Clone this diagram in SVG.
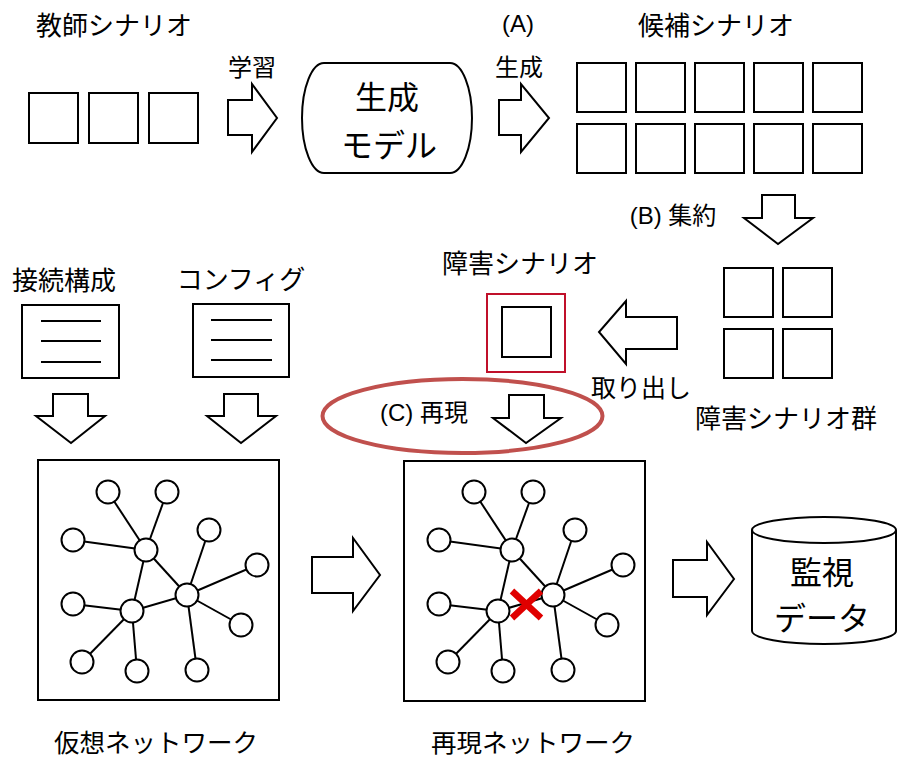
<svg xmlns="http://www.w3.org/2000/svg" width="898" height="758" viewBox="0 0 898 758">
<style>
.s{fill:#fff;stroke:#000;stroke-width:2}
.ln{stroke:#000;stroke-width:2;fill:none}
.ar{fill:#fff;stroke:#000;stroke-width:2;stroke-linejoin:miter}
.jp{font-family:"Noto Sans CJK JP","Liberation Sans",sans-serif;fill:#000;dominant-baseline:central;text-anchor:middle}
.lt{font-family:"Liberation Sans","Noto Sans CJK JP",sans-serif;fill:#000;dominant-baseline:central;text-anchor:middle}
.n{fill:#fff;stroke:#000;stroke-width:2}
</style>
<rect width="898" height="758" fill="#fff"/>

<g id="teacher">
<text class="jp" x="114" y="23" font-size="26">教師シナリオ</text>
<rect class="s" x="29" y="93" width="49" height="50"/>
<rect class="s" x="89" y="93" width="49" height="50"/>
<rect class="s" x="149" y="93" width="49" height="50"/>
</g>

<g id="model">
<path class="s" d="M324,63 H450 A22,55 0 0 1 450,173 H324 A22,55 0 0 1 324,63 Z"/>
<text class="jp" x="387" y="95" font-size="32">生成</text>
<text class="jp" x="389" y="143" font-size="32">モデル</text>
</g>

<g id="candidates">
<text class="jp" x="716" y="23" font-size="26">候補シナリオ</text>
<rect class="s" x="577" y="63" width="49" height="49"/>
<rect class="s" x="636" y="63" width="49" height="49"/>
<rect class="s" x="695" y="63" width="49" height="49"/>
<rect class="s" x="754" y="63" width="49" height="49"/>
<rect class="s" x="813" y="63" width="49" height="49"/>
<rect class="s" x="577" y="124" width="49" height="49"/>
<rect class="s" x="636" y="124" width="49" height="49"/>
<rect class="s" x="695" y="124" width="49" height="49"/>
<rect class="s" x="754" y="124" width="49" height="49"/>
<rect class="s" x="813" y="124" width="49" height="49"/>
</g>

<g id="fault-group">
<rect class="s" x="724" y="268" width="49" height="49"/>
<rect class="s" x="783" y="268" width="49" height="49"/>
<rect class="s" x="724" y="329" width="49" height="49"/>
<rect class="s" x="783" y="329" width="49" height="49"/>
<text class="jp" x="786" y="416" font-size="26">障害シナリオ群</text>
</g>

<g id="fault">
<text class="jp" x="520" y="261" font-size="26">障害シナリオ</text>
<rect x="487" y="294" width="78" height="78" fill="#fff" stroke="#C0102A" stroke-width="2"/>
<rect class="s" x="502" y="307" width="49" height="50"/>
</g>

<g id="doc-connection">
<text class="jp" x="64" y="278" font-size="26">接続構成</text>
<rect class="s" x="22" y="305" width="97" height="73"/>
<line class="ln" x1="41" y1="321" x2="101" y2="321"/>
<line class="ln" x1="41" y1="341" x2="101" y2="341"/>
<line class="ln" x1="41" y1="362" x2="101" y2="362"/>
</g>

<g id="doc-config">
<text class="jp" x="241" y="277" font-size="26">コンフィグ</text>
<rect class="s" x="193" y="304" width="96" height="73"/>
<line class="ln" x1="211" y1="320" x2="272" y2="320"/>
<line class="ln" x1="211" y1="340" x2="272" y2="340"/>
<line class="ln" x1="211" y1="360" x2="272" y2="360"/>
</g>

<g id="reproduce-mark">
<ellipse cx="462.5" cy="416" rx="140" ry="37" fill="none" stroke="#C0504D" stroke-width="4"/>
<text class="lt" x="424" y="412" font-size="24">(C) 再現</text>
</g>

<g id="virtual-network">
<rect class="s" x="38" y="460" width="241" height="240"/>
<g class="ln">
<line x1="108" y1="492" x2="146" y2="550"/>
<line x1="167" y1="492" x2="146" y2="550"/>
<line x1="73" y1="540" x2="146" y2="550"/>
<line x1="146" y1="550" x2="132" y2="611"/>
<line x1="146" y1="550" x2="187" y2="595"/>
<line x1="132" y1="611" x2="187" y2="595"/>
<line x1="73" y1="604" x2="132" y2="611"/>
<line x1="82" y1="662" x2="132" y2="611"/>
<line x1="137" y1="671" x2="132" y2="611"/>
<line x1="209" y1="530" x2="187" y2="595"/>
<line x1="257" y1="565" x2="187" y2="595"/>
<line x1="241" y1="625" x2="187" y2="595"/>
<line x1="197" y1="670" x2="187" y2="595"/>
</g>
<circle class="n" cx="108" cy="492" r="11.5"/>
<circle class="n" cx="167" cy="492" r="11.5"/>
<circle class="n" cx="73" cy="540" r="11.5"/>
<circle class="n" cx="146" cy="550" r="11.5"/>
<circle class="n" cx="209" cy="530" r="11.5"/>
<circle class="n" cx="257" cy="565" r="11.5"/>
<circle class="n" cx="187" cy="595" r="11.5"/>
<circle class="n" cx="132" cy="611" r="11.5"/>
<circle class="n" cx="73" cy="604" r="11.5"/>
<circle class="n" cx="241" cy="625" r="11.5"/>
<circle class="n" cx="82" cy="662" r="11.5"/>
<circle class="n" cx="137" cy="671" r="11.5"/>
<circle class="n" cx="197" cy="670" r="11.5"/>
<text class="jp" x="156" y="740" font-size="25.5">仮想ネットワーク</text>
</g>

<g id="reproduced-network">
<rect class="s" x="404" y="461" width="241" height="240"/>
<g class="ln" transform="translate(366,0)">
<line x1="108" y1="492" x2="146" y2="550"/>
<line x1="167" y1="492" x2="146" y2="550"/>
<line x1="73" y1="540" x2="146" y2="550"/>
<line x1="146" y1="550" x2="132" y2="611"/>
<line x1="146" y1="550" x2="187" y2="595"/>
<line x1="132" y1="611" x2="187" y2="595"/>
<line x1="73" y1="604" x2="132" y2="611"/>
<line x1="82" y1="662" x2="132" y2="611"/>
<line x1="137" y1="671" x2="132" y2="611"/>
<line x1="209" y1="530" x2="187" y2="595"/>
<line x1="257" y1="565" x2="187" y2="595"/>
<line x1="241" y1="625" x2="187" y2="595"/>
<line x1="197" y1="670" x2="187" y2="595"/>
</g>
<g transform="translate(366,0)">
<circle class="n" cx="108" cy="492" r="11.5"/>
<circle class="n" cx="167" cy="492" r="11.5"/>
<circle class="n" cx="73" cy="540" r="11.5"/>
<circle class="n" cx="146" cy="550" r="11.5"/>
<circle class="n" cx="209" cy="530" r="11.5"/>
<circle class="n" cx="257" cy="565" r="11.5"/>
<circle class="n" cx="187" cy="595" r="11.5"/>
<circle class="n" cx="132" cy="611" r="11.5"/>
<circle class="n" cx="73" cy="604" r="11.5"/>
<circle class="n" cx="241" cy="625" r="11.5"/>
<circle class="n" cx="82" cy="662" r="11.5"/>
<circle class="n" cx="137" cy="671" r="11.5"/>
<circle class="n" cx="197" cy="670" r="11.5"/>
</g>
<g stroke="#E00000" stroke-width="6.5">
<line x1="512" y1="591" x2="541" y2="618"/>
<line x1="541" y1="591" x2="512" y2="618"/>
</g>
<text class="jp" x="533" y="740" font-size="25.5">再現ネットワーク</text>
</g>

<g id="monitor-data">
<path class="s" d="M752,530 V631 A72,13 0 0 0 896,631 V530"/>
<ellipse class="s" cx="824" cy="530" rx="72" ry="13"/>
<text class="jp" x="822" y="570" font-size="32">監視</text>
<text class="jp" x="822" y="616" font-size="32">データ</text>
</g>

<g id="connectors">
<polygon class="ar" points="228,100 252,100 252,84 277,118 252,152 252,135 228,135"/>
<text class="jp" x="252" y="65" font-size="24">学習</text>
<polygon class="ar" points="499,100 521,100 521,84 549,118 521,152 521,135 499,135"/>
<text class="lt" x="518" y="23" font-size="24">(A)</text>
<text class="jp" x="519" y="65" font-size="24">生成</text>
<polygon class="ar" points="762,195 795,195 795,218 813,218 778,244 744,218 762,218"/>
<text class="lt" x="673" y="215" font-size="24">(B) 集約</text>
<polygon class="ar" points="677,317 626,317 626,301 599,332 626,364 626,349 677,349"/>
<text class="jp" x="641" y="386" font-size="25">取り出し</text>
<polygon class="ar" points="509,395 544,395 544,418 561,418 526,443 493,418 509,418"/>
<polygon class="ar" points="53,394 88,394 88,416 105,416 71,443 36,416 53,416"/>
<polygon class="ar" points="224,394 258,394 258,416 276,416 241,443 207,416 224,416"/>
<polygon class="ar" points="312,557 353,557 353,538 380,575 353,611 353,593 312,593"/>
<polygon class="ar" points="673,560 707,560 707,542 734,579 707,615 707,597 673,597"/>
</g>
</svg>
